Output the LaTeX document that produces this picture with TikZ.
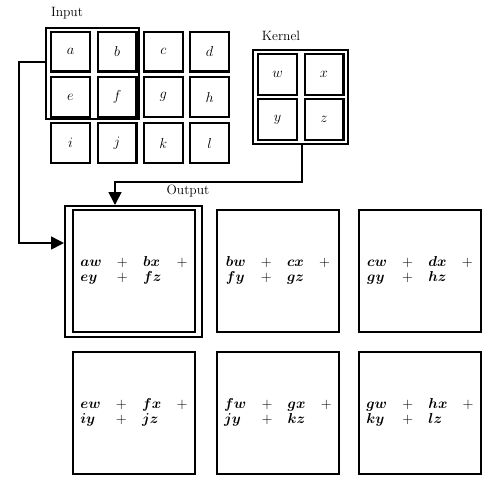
\documentclass[tikz,border=0pt]{standalone}
\usepackage{amsmath}
\usetikzlibrary{arrows.meta}
\newcommand{\bsy}[1]{\ensuremath{\boldsymbol{#1}}}
\newcommand{\outtab}[4]{{\setlength{\tabcolsep}{7.6pt}\begin{tabular}{@{}llll@{}}\bsy{#1} & $+$ & \bsy{#2} & $+$\\ \bsy{#3} & $+$ & \bsy{#4} & \end{tabular}}}
\begin{document}
\begin{tikzpicture}[x=1pt,y=-1pt,
  every node/.style={font=\fontsize{13.5}{15}\selectfont},
  cell/.style={draw, line width=2.2pt, minimum width=38.8pt, minimum height=39.8pt, inner sep=0pt},
  kcell/.style={draw, line width=2.2pt, minimum width=38.8pt, minimum height=40.8pt, inner sep=0pt},
  obox/.style={draw, line width=2pt, minimum width=122pt, minimum height=122pt, inner sep=0pt},
  frame/.style={draw, line width=1.6pt, inner sep=0pt},
  conn/.style={line width=1.6pt},
  tip/.style={-{Triangle[length=13pt,width=13pt]}},
  lbl/.style={inner sep=0pt}]
\useasboundingbox (0,0) rectangle (497,491);
% labels
\node[lbl] (linput) at (67,13) {Input};
\node[lbl] (lkernel) at (281,36) {Kernel};
\node[lbl] (loutput) at (188,191) {Output};
% input grid
\node[cell] (a) at (70.5,51.5) {$a$};
\node[cell] (b) at (117,51.5) {$b$};
\node[cell] (c) at (163.3,51.5) {$c$};
\node[cell] (d) at (209.6,51.5) {$d$};
\node[cell] (e) at (70.5,97.2) {$e$};
\node[cell] (f) at (117,97.2) {$f$};
\node[cell] (g) at (163.3,97.2) {$g$};
\node[cell] (h) at (209.6,97.2) {$h$};
\node[cell] (i) at (70.5,143) {$i$};
\node[cell] (j) at (117,143) {$j$};
\node[cell] (k) at (163.3,143) {$k$};
\node[cell] (l) at (209.6,143) {$l$};
% highlight
\node[frame, minimum width=93.4pt, minimum height=91.4pt] (hl) at (92.5,73.5) {};
% kernel
\node[frame, line width=2pt, minimum width=95pt, minimum height=94pt] (kern) at (300.5,97) {};
\node[kcell] (w) at (277.5,74.5) {$w$};
\node[kcell] (x) at (324,74.5) {$x$};
\node[kcell] (y) at (277.5,119.5) {$y$};
\node[kcell] (z) at (324,119.5) {$z$};
% output
\node[frame, line width=2.2pt, minimum width=136.8pt, minimum height=130.8pt] (oframe) at (133.5,271.5) {};
\node[obox] (o1) at (134,271) {\outtab{aw}{bx}{ey}{fz}};
\node[obox] (o2) at (278,271) {\outtab{bw}{cx}{fy}{gz}};
\node[obox] (o3) at (420,271) {\outtab{cw}{dx}{gy}{hz}};
\node[obox] (o4) at (134,413) {\outtab{ew}{fx}{iy}{jz}};
\node[obox] (o5) at (278,413) {\outtab{fw}{gx}{jy}{kz}};
\node[obox] (o6) at (420,413) {\outtab{gw}{hx}{ky}{lz}};
% connectors
\coordinate (hs) at (hl.west |- 0,62);
\coordinate (hc1) at (19,62);
\coordinate (hc2) at (19,243);
\coordinate (ht) at (oframe.west |- 0,243);
\draw[conn, tip] (hs) -- (hc1) -- (hc2) -- (ht);
\coordinate (ks) at (302,0 |- kern.south);
\coordinate (kc1) at (302,182);
\coordinate (kc2) at (115,182);
\coordinate (kt) at (115,0 |- oframe.north);
\draw[conn, tip] (ks) -- (kc1) -- (kc2) -- (kt);
\end{tikzpicture}
\end{document}
